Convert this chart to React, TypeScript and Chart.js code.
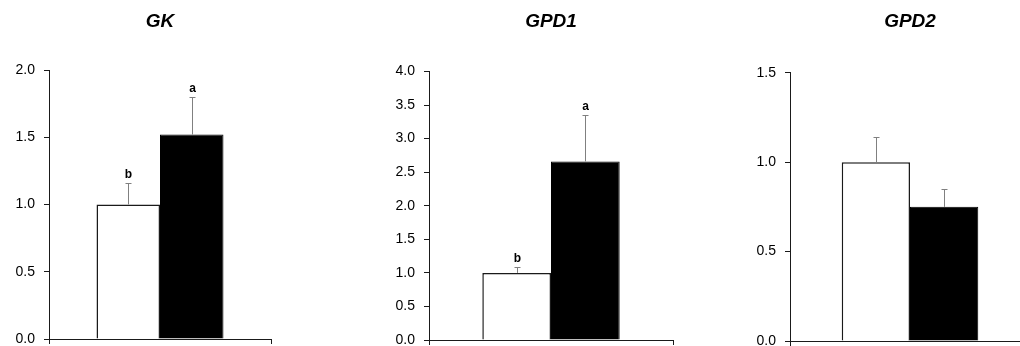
import React, { useEffect, useRef } from "react";
import { Chart, registerables } from "chart.js";

Chart.register(...registerables);

// ---- data ----
const genes = ["GK", "GPD1", "GPD2"];
const controlMeans = [1.0, 1.0, 1.0];
const treatedMeans = [1.52, 2.66, 0.75];
const controlErrors = [0.16, 0.09, 0.14];
const treatedErrors = [0.28, 0.69, 0.1];
const controlLetters = ["b", "b", ""];
const treatedLetters = ["a", "a", ""];
const yMaxValues = [2.0, 4.0, 1.5];
const yTickStep = 0.5;

// ---- layout (pixels) ----
const panelLayouts = [
  { left: 0, width: 300, axisWidth: 49, padRight: 29, top: 70, bottom: 339, cat: 0.572 },
  { left: 340, width: 360, axisWidth: 89, padRight: 27, top: 71.5, bottom: 340, cat: 0.563 },
  { left: 680, width: 380, axisWidth: 110, padRight: 30, top: 72.7, bottom: 341, cat: 0.569 },
];
const H = 346;
const FONT = "'Liberation Sans', Arial, Helvetica, sans-serif";
const AXIS = "#1a1a1a";

const errorBarPlugin = {
  id: "errorBars",
  afterDatasetsDraw(chart: any) {
    const { ctx } = chart;
    const yScale = chart.scales.y;
    chart.data.datasets.forEach((ds: any, di: number) => {
      const meta = chart.getDatasetMeta(di);
      meta.data.forEach((bar: any, i: number) => {
        const v = ds.data[i];
        const e = ds.errors[i];
        const top = Math.round(yScale.getPixelForValue(v + e)) + 0.5;
        const x = Math.round(bar.x) + 0.5;
        ctx.save();
        ctx.strokeStyle = "#808080";
        ctx.lineWidth = 1;
        ctx.beginPath();
        ctx.moveTo(x, bar.y);
        ctx.lineTo(x, top);
        ctx.moveTo(x - 3, top);
        ctx.lineTo(x + 3, top);
        ctx.stroke();
        const letter = ds.letters[i];
        if (letter) {
          ctx.fillStyle = "#000";
          ctx.font = `bold 12px ${FONT}`;
          ctx.textAlign = "center";
          ctx.textBaseline = "alphabetic";
          ctx.fillText(letter, x, top - 6);
        }
        ctx.restore();
      });
    });
  },
};

function Panel({ idx }: { idx: number }) {
  const ref = useRef<HTMLCanvasElement | null>(null);
  const L = panelLayouts[idx];
  useEffect(() => {
    if (!ref.current) return;
    const titleTop = 10;
    const titleLine = 19 * 1.2;
    const chart = new Chart(ref.current, {
      type: "bar",
      data: {
        labels: [""],
        datasets: [
          {
            label: "Control",
            data: [controlMeans[idx]],
            errors: [controlErrors[idx]],
            letters: [controlLetters[idx]],
            backgroundColor: "#ffffff",
            borderColor: "#1a1a1a",
            borderWidth: 1.5,
            categoryPercentage: L.cat,
            barPercentage: 1,
          } as any,
          {
            label: "Treated",
            data: [treatedMeans[idx]],
            errors: [treatedErrors[idx]],
            letters: [treatedLetters[idx]],
            backgroundColor: "#000000",
            borderColor: "#000000",
            borderWidth: 1,
            categoryPercentage: L.cat,
            barPercentage: 1,
          } as any,
        ],
      },
      options: {
        responsive: false,
        animation: false,
        layout: { padding: { left: 0, right: L.padRight, top: 0, bottom: H - L.bottom - 5 } },
        plugins: {
          legend: { display: false },
          tooltip: { enabled: false },
          title: {
            display: true,
            text: genes[idx],
            fullSize: false,
            color: "#000",
            font: { family: FONT, size: 19, weight: "bold", style: "italic" },
            padding: { top: titleTop, bottom: L.top - titleTop - titleLine },
          },
        },
        scales: {
          x: {
            offset: true,
            ticks: { display: false },
            grid: { display: true, drawOnChartArea: false, drawTicks: true, tickLength: 5, color: AXIS, offset: true },
            border: { display: true, color: AXIS, width: 1 },
          },
          y: {
            min: 0,
            max: yMaxValues[idx],
            ticks: {
              stepSize: yTickStep,
              padding: 9,
              color: "#000",
              font: { family: FONT, size: 14 },
              callback: (v: any) => Number(v).toFixed(1),
            },
            grid: { display: true, drawOnChartArea: false, drawTicks: true, tickLength: 5, color: AXIS },
            border: { display: true, color: AXIS, width: 1 },
            afterFit: (scale: any) => {
              scale.width = L.axisWidth;
              scale.paddingTop = 0;
              scale.paddingBottom = 0;
            },
          },
        },
      } as any,
      plugins: [errorBarPlugin],
    });
    return () => chart.destroy();
  }, [idx]);
  return (
    <canvas
      ref={ref}
      width={L.width}
      height={H}
      style={{ position: "absolute", left: L.left, top: 0, width: L.width, height: H }}
    />
  );
}

export default function App() {
  return (
    <div
      style={{
        position: "absolute",
        left: 0,
        top: 0,
        width: 1020,
        height: H,
        overflow: "hidden",
        background: "#fff",
      }}
    >
      {genes.map((g, i) => (
        <Panel key={g} idx={i} />
      ))}
    </div>
  );
}
